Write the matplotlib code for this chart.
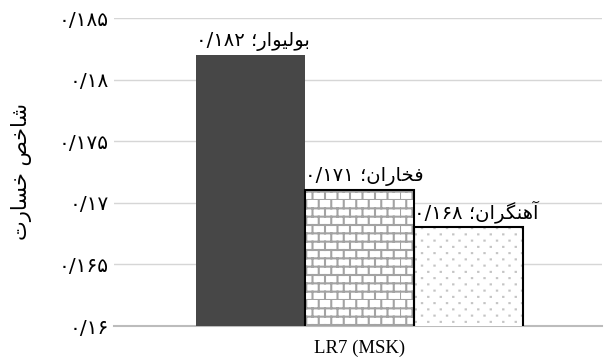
"""Loss index bar chart for LR7 (MSK)."""

import warnings

import matplotlib
matplotlib.use("Agg")
import matplotlib.pyplot as plt
import numpy as np
from matplotlib import hatch as mhatch
from matplotlib.path import Path as MPath

# data
categories = ["بولیوار", "فخاران", "آهنگران"]
values = [0.182, 0.171, 0.168]
group_label = "LR7 (MSK)"
y_ticks = [0.16, 0.165, 0.17, 0.175, 0.18, 0.185]
y_label = "شاخص خسارت"

# --- minimal Persian shaping (matplotlib draws glyphs left to right, unshaped)
FORMS = {  # isolated, final, initial, medial
    "\u0627": ("\uFE8D", "\uFE8E", None, None),
    "\u0622": ("\uFE81", "\uFE82", None, None),
    "\u0628": ("\uFE8F", "\uFE90", "\uFE91", "\uFE92"),
    "\u062A": ("\uFE95", "\uFE96", "\uFE97", "\uFE98"),
    "\u062E": ("\uFEA5", "\uFEA6", "\uFEA7", "\uFEA8"),
    "\u0631": ("\uFEAD", "\uFEAE", None, None),
    "\u0633": ("\uFEB1", "\uFEB2", "\uFEB3", "\uFEB4"),
    "\u0634": ("\uFEB5", "\uFEB6", "\uFEB7", "\uFEB8"),
    "\u0635": ("\uFEB9", "\uFEBA", "\uFEBB", "\uFEBC"),
    "\u0641": ("\uFED1", "\uFED2", "\uFED3", "\uFED4"),
    "\u0644": ("\uFEDD", "\uFEDE", "\uFEDF", "\uFEE0"),
    "\u0646": ("\uFEE5", "\uFEE6", "\uFEE7", "\uFEE8"),
    "\u0647": ("\uFEE9", "\uFEEA", "\uFEEB", "\uFEEC"),
    "\u0648": ("\uFEED", "\uFEEE", None, None),
    "\u06CC": ("\uFBFC", "\uFBFD", "\uFBFE", "\uFBFF"),
    "\u06AF": ("\uFB92", "\uFB93", "\uFB94", "\uFB95"),
}


def joins_next(ch):
    return ch in FORMS and FORMS[ch][2] is not None


def shape_rtl(text):
    out = []
    for i, ch in enumerate(text):
        if ch not in FORMS:
            out.append(ch)
            continue
        prev = text[i - 1] if i > 0 else ""
        nxt = text[i + 1] if i + 1 < len(text) else ""
        left = joins_next(prev)
        right = joins_next(ch) and nxt in FORMS
        iso, fin, ini, med = FORMS[ch]
        if left and right:
            out.append(med)
        elif left:
            out.append(fin)
        elif right:
            out.append(ini)
        else:
            out.append(iso)
    return "".join(reversed(out))


FA_DIGITS = str.maketrans("0123456789.", "۰۱۲۳۴۵۶۷۸۹/")


def fa_num(v, nd=3):
    s = f"{v:.{nd}f}".rstrip("0")
    return s.translate(FA_DIGITS)


# --- extra hatches: 'b' = brick wall, 'd' = fine staggered dots
class BrickHatch(mhatch.HatchPatternBase):
    rows = 12
    cols = 8

    def __init__(self, hatch, density):
        on = "b" in hatch
        self.num_vertices = (self.rows + self.rows * self.cols) * 2 if on else 0

    def set_vertices_and_codes(self, vertices, codes):
        segs = []
        for k in range(self.rows):
            y0 = k / self.rows
            y1 = (k + 1) / self.rows
            segs.append(((0.0, y0), (1.0, y0)))
            shift = 0.5 * (k % 2)
            for j in range(self.cols):
                x = (j + shift) / self.cols
                segs.append(((x, y0), (x, y1)))
        vertices[:] = np.array(segs).reshape(-1, 2)
        codes[0::2] = MPath.MOVETO
        codes[1::2] = MPath.LINETO


class DotHatch(mhatch.HatchPatternBase):
    rows = 16
    cols = 8

    def __init__(self, hatch, density):
        on = "d" in hatch
        self.num_vertices = self.rows * self.cols * 2 if on else 0

    def set_vertices_and_codes(self, vertices, codes):
        segs = []
        for k in range(self.rows):
            y = (k + 0.5) / self.rows
            shift = 0.5 * (k % 2)
            for j in range(self.cols):
                x = (j + shift + 0.25) / self.cols
                segs.append(((x, y), (x + 0.003, y)))
        vertices[:] = np.array(segs).reshape(-1, 2)
        codes[0::2] = MPath.MOVETO
        codes[1::2] = MPath.LINETO


mhatch._hatch_types.extend([BrickHatch, DotHatch])
warnings.filterwarnings("ignore", category=matplotlib.MatplotlibDeprecationWarning)

plt.rcParams["font.family"] = ["DejaVu Sans"]
plt.rcParams["hatch.linewidth"] = 1.5

fig = plt.figure(figsize=(6.04, 3.64), dpi=100)
ax = fig.add_axes([114 / 604, 38 / 364, 488 / 604, 308 / 364])

x = np.arange(len(values))
width = 1.0

ax.bar(x[0], values[0], width, color="#474747", zorder=3)
ax.bar(x[1], values[1], width, color="white", edgecolor="#a3a3a3",
       hatch="b", linewidth=0, zorder=3)
ax.bar(x[2], values[2], width, color="white", edgecolor="#c4c4c4",
       hatch="d", linewidth=0, zorder=3)
ax.bar(x[1:], values[1:], width, fill=False, edgecolor="black",
       linewidth=1.5, zorder=4)

for xi, v, name in zip(x, values, categories):
    text = fa_num(v) + " " + shape_rtl(name + "؛")
    ax.annotate(text, (xi - width / 2, v), xytext=(0, 3),
                textcoords="offset points", ha="left", va="bottom",
                fontsize=14, zorder=5)

ax.set_ylim(y_ticks[0], y_ticks[-1])
ax.set_yticks(y_ticks)
ax.set_yticklabels([fa_num(t) for t in y_ticks], fontsize=14.5)
ax.set_xlim(-0.5 - 0.75, 2.5 + 0.72)
ax.set_xticks([1])
ax.set_xticklabels([group_label], fontsize=13.5, family="Liberation Serif")

ax.grid(True, axis="y", color="#d6d6d6", linewidth=1.0, zorder=0)
ax.tick_params(axis="y", length=0, pad=4)
ax.tick_params(axis="x", length=0, pad=10)
for side in ("left", "right", "top"):
    ax.spines[side].set_visible(False)
ax.spines["bottom"].set_color("#bcbcbc")
ax.spines["bottom"].set_linewidth(1.5)

ax.set_ylabel(shape_rtl(y_label), fontsize=15)
ax.yaxis.set_label_coords(-0.168, 0.5)

fig.savefig("out.png", dpi=100)
plt.close(fig)
